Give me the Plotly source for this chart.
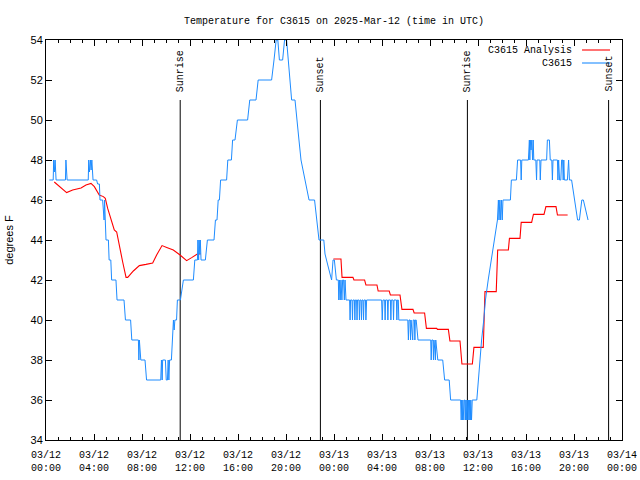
import pandas as pd
import plotly.graph_objects as go

BASE = pd.Timestamp("2025-03-12 00:00")

# Observed station temperatures (hours since 03/12 00:00 UTC, deg F)
obs_hours = [0.28, 0.60, 0.64, 0.70, 0.76, 0.84, 1.62, 1.66, 1.76, 3.52, 3.56, 3.62, 3.70, 3.76, 3.82, 3.92,
             4.22, 4.30, 4.45, 4.50, 4.72, 4.78, 4.84, 4.88, 4.93, 5.00, 5.20, 5.26, 5.40, 5.47, 5.83, 5.92,
             6.50, 6.62, 7.05, 7.15, 7.70, 7.74, 7.78, 7.84, 7.90, 8.25, 8.38, 9.56, 9.62, 9.68, 9.72, 9.95,
             10.02, 10.12, 10.18, 10.24, 10.30, 10.45, 10.55, 10.62, 10.68, 10.74, 10.88, 10.95, 11.20, 11.45,
             12.28, 12.40, 12.62, 12.66, 12.72, 12.76, 12.82, 12.86, 12.92, 13.28, 13.45, 14.00, 14.12, 14.25,
             14.35, 14.45, 14.55, 15.05, 15.15, 15.45, 15.55, 15.75, 15.95, 16.80, 16.98, 17.50, 17.68, 18.80,
             19.00, 19.18, 19.32, 19.45, 19.72, 19.88, 20.05, 20.33, 20.47, 20.75, 20.89, 21.08, 21.25, 21.58,
             21.92, 22.38, 22.56, 22.75, 23.15, 23.25, 23.50, 23.80, 23.92, 24.03, 24.20, 24.36, 24.40, 24.46,
             24.52, 24.58, 24.66, 24.72, 24.80, 24.86, 24.92, 25.00, 25.30, 25.34, 25.38, 25.50, 25.54, 25.58,
             25.70, 25.74, 25.78, 25.88, 25.92, 25.96, 26.08, 26.12, 26.16, 26.25, 26.29, 26.33, 26.42, 26.46,
             26.50, 26.62, 26.66, 26.72, 27.97, 28.02, 28.08, 28.22, 28.26, 28.30, 28.45, 28.49, 28.53, 28.70,
             28.74, 28.78, 28.92, 28.96, 29.00, 29.20, 29.24, 29.28, 29.36, 29.40, 29.50, 30.15, 30.20, 30.25,
             30.34, 30.38, 30.42, 30.50, 30.56, 30.60, 30.70, 30.74, 30.78, 30.85, 31.00, 32.06, 32.10, 32.15,
             32.25, 32.29, 32.33, 32.40, 32.45, 32.48, 32.55, 32.65, 33.06, 33.22, 33.60, 33.72, 34.55, 34.60,
             34.64, 34.70, 34.74, 34.82, 34.86, 34.92, 34.96, 35.00, 35.06, 35.10, 35.16, 35.20, 35.26, 35.30,
             35.36, 35.40, 35.46, 35.52, 35.90, 36.02, 36.15, 36.30, 36.48, 36.62, 36.85, 37.10, 37.35, 37.62,
             37.70, 37.75, 37.82, 37.88, 37.95, 38.02, 38.08, 38.15, 38.35, 38.70, 38.78, 39.20, 39.30, 39.55,
             39.60, 39.65, 40.20, 40.28, 40.32, 40.36, 40.42, 40.48, 40.55, 40.60, 40.65, 40.75, 40.82, 40.88,
             40.92, 41.15, 41.19, 41.25, 41.72, 41.78, 41.95, 42.02, 42.15, 42.20, 42.25, 42.62, 42.66, 42.72,
             42.80, 42.90, 42.97, 43.05, 43.10, 43.15, 43.20, 43.45, 43.55, 43.62, 43.80, 44.05, 44.30, 44.45,
             44.65, 44.78, 45.17]
obs_temps = [47, 47, 48, 47.4, 48, 47, 47, 48, 47, 47, 48, 47.4, 48, 47.5, 48, 47,
             47, 46.8, 46.8, 46, 46, 45, 45, 46, 45, 44, 44, 43, 43, 42, 42, 41,
             41, 40, 40, 39, 39, 38, 39, 38.5, 38, 38, 37, 37, 38, 37, 38, 38,
             37, 37, 38, 37, 38, 38, 39, 40, 39.5, 40, 40, 41, 41, 42,
             42, 43, 43, 44, 43, 44, 43.3, 44, 43, 43, 44, 44, 45, 45,
             46, 46, 47, 47, 48, 48, 49, 49, 50, 50, 51, 51, 52, 52,
             53, 54, 54, 53, 53, 54, 54, 52, 51, 51, 50, 49, 48, 47,
             46, 46, 45, 44, 44, 43.3, 42.7, 42, 43, 43, 42, 42, 41, 42,
             41, 42, 41, 42, 42, 41, 42, 41, 41, 40, 41, 41, 40, 41,
             41, 40, 41, 41, 40, 41, 41, 40, 41, 41, 40, 41, 41, 40,
             41, 41, 40, 41, 41, 40, 41, 41, 40, 41, 41, 40, 41, 41,
             40, 41, 41, 40, 41, 41, 40, 41, 41, 40, 40, 40, 39, 40,
             40, 39, 40, 39.5, 39, 40, 40, 39, 40, 40, 39, 39, 38, 39,
             39, 38, 39, 38.5, 38, 39, 38.5, 38, 38, 37, 37, 36, 36, 35,
             36, 35, 36, 35, 36, 36, 35, 36, 35, 36, 35, 36, 35, 36,
             35, 36, 35, 36, 36, 37, 38, 39, 40, 41, 42, 43, 44, 45,
             46, 45, 46, 45, 46, 45, 46, 46, 46, 46, 47, 47, 48, 48,
             47, 48, 48, 49, 48, 49, 48.5, 49, 48, 49, 48, 48, 48, 47,
             48, 48, 47, 48, 48, 49, 49, 48, 48, 47, 48, 48, 47, 48,
             47, 47, 48, 48, 47, 48, 47, 47, 48, 47, 47, 46, 45, 45,
             46, 46, 45]

# Analysis temperatures (two segments)
ana1_hours = [0.69, 1.00, 1.72, 2.22, 2.92, 3.33, 3.75, 4.03, 4.44, 4.78, 4.94, 5.14, 5.50, 5.69, 5.89,
              6.11, 6.39, 6.67, 6.81, 7.28, 7.78, 8.33, 8.89, 9.22, 9.67, 10.06, 10.61, 11.17, 11.72,
              12.14, 12.61, 12.89]
ana1_temps = [46.9, 46.75, 46.37, 46.5, 46.6, 46.75, 46.83, 46.67, 46.25, 46.17, 46.08, 45.58, 44.83, 44.5, 44.4,
              43.67, 42.9, 42.13, 42.13, 42.45, 42.72, 42.78, 42.85, 43.25, 43.72, 43.63, 43.5, 43.25, 42.97,
              43.12, 43.3, 43.3]
ana2_hours = [23.95, 24.58, 24.67, 25.58, 25.66, 26.55, 26.66, 27.58, 27.68, 28.60, 28.70, 29.50, 29.66,
              30.58, 30.68, 31.55, 31.70, 32.56, 32.62, 33.53, 33.66, 34.50, 34.66, 35.53, 35.66, 36.44,
              36.58, 37.52, 37.64, 38.53, 38.62, 39.50, 39.60, 40.47, 40.62, 41.50, 41.66, 42.50, 42.62, 43.47]
ana2_temps = [43.05, 43.05, 42.13, 42.13, 42.0, 42.0, 41.75, 41.75, 41.45, 41.45, 41.25, 41.25, 40.53,
              40.53, 40.35, 40.35, 39.58, 39.58, 39.53, 39.53, 38.95, 38.95, 37.8, 37.8, 38.63, 38.63,
              41.42, 41.42, 43.5, 43.5, 44.08, 44.08, 44.88, 44.88, 45.28, 45.28, 45.67, 45.67, 45.25, 45.25]

sun_times = ["2025-03-12 11:11", "2025-03-12 22:52", "2025-03-13 11:07", "2025-03-13 22:53"]
sun_labels = ["Sunrise", "Sunset", "Sunrise", "Sunset"]
sun_line_top = 51

legend_names = ["C3615 Analysis", "C3615"]
RED = "#ff0000"
BLUE = "#1e8cff"
MONO = "Liberation Mono"


def to_time(hours):
    return BASE + pd.to_timedelta(pd.Series(hours), unit="h")


ana_x = list(to_time(ana1_hours)) + [None] + list(to_time(ana2_hours))
ana_y = ana1_temps + [None] + ana2_temps

fig = go.Figure()
for t in sun_times:
    fig.add_trace(go.Scatter(x=[t, t], y=[34, sun_line_top], mode="lines",
                             line=dict(color="black", width=1), showlegend=False, hoverinfo="skip"))
fig.add_trace(go.Scatter(x=ana_x, y=ana_y, mode="lines", line=dict(color=RED, width=1.1),
                         name=legend_names[0], showlegend=False, connectgaps=False))
fig.add_trace(go.Scatter(x=to_time(obs_hours), y=obs_temps, mode="lines", line=dict(color=BLUE, width=1),
                         name=legend_names[1], showlegend=False))

for t, lab in zip(sun_times, sun_labels):
    fig.add_annotation(x=t, y=sun_line_top, text=lab, textangle=-90, showarrow=False,
                       xanchor="center", yanchor="bottom", yshift=6,
                       font=dict(family=MONO, size=10, color="black"))

# manual gnuplot-style legend (text left, sample right)
for i, (name, col) in enumerate(zip(legend_names, [RED, BLUE])):
    yy = 0.975 - i * 0.0325
    fig.add_annotation(xref="paper", yref="paper", x=0.9167, y=yy, text=name, showarrow=False,
                       xanchor="right", yanchor="middle", font=dict(family=MONO, size=10, color="black"))
    fig.add_shape(type="line", xref="paper", yref="paper", x0=0.9306, x1=0.9792, y0=yy, y1=yy,
                  line=dict(color=col, width=1.1))

fig.update_layout(
    width=640, height=480,
    margin=dict(l=46, r=18, t=40, b=40),
    paper_bgcolor="white", plot_bgcolor="white",
    title=dict(text="Temperature for C3615 on 2025-Mar-12 (time in UTC)", x=0.522, xanchor="center",
               y=0.958, yanchor="middle", font=dict(family=MONO, size=10, color="black"),
               automargin=False),
    showlegend=False,
    hovermode=False,
)
fig.update_xaxes(
    type="date", range=["2025-03-12 00:00", "2025-03-14 00:00"], automargin=False,
    dtick=4 * 3600 * 1000, tick0="2025-03-12 00:00", tickformat="%m/%d<br>%H:%M",
    ticks="inside", ticklen=6, tickcolor="black", showgrid=False, zeroline=False,
    showline=True, linecolor="black", linewidth=1, mirror="allticks", ticklabelstandoff=5,
    minor=dict(dtick=3600 * 1000, ticks="inside", ticklen=3, tickcolor="black", showgrid=False),
    tickfont=dict(family=MONO, size=10, color="black"),
)
fig.update_yaxes(
    range=[34, 54], dtick=2, ticks="inside", ticklen=6, tickcolor="black", showgrid=False,
    zeroline=False, showline=True, linecolor="black", linewidth=1, mirror="allticks", automargin=False,
    tickfont=dict(family="Liberation Sans", size=11, color="black"),
    title=dict(text="degrees F", font=dict(family="Liberation Sans", size=11, color="black"), standoff=14),
)

fig.write_html("out.html", config={"displayModeBar": False},
               post_script="document.body.style.margin='0';document.body.style.overflow='hidden';")
